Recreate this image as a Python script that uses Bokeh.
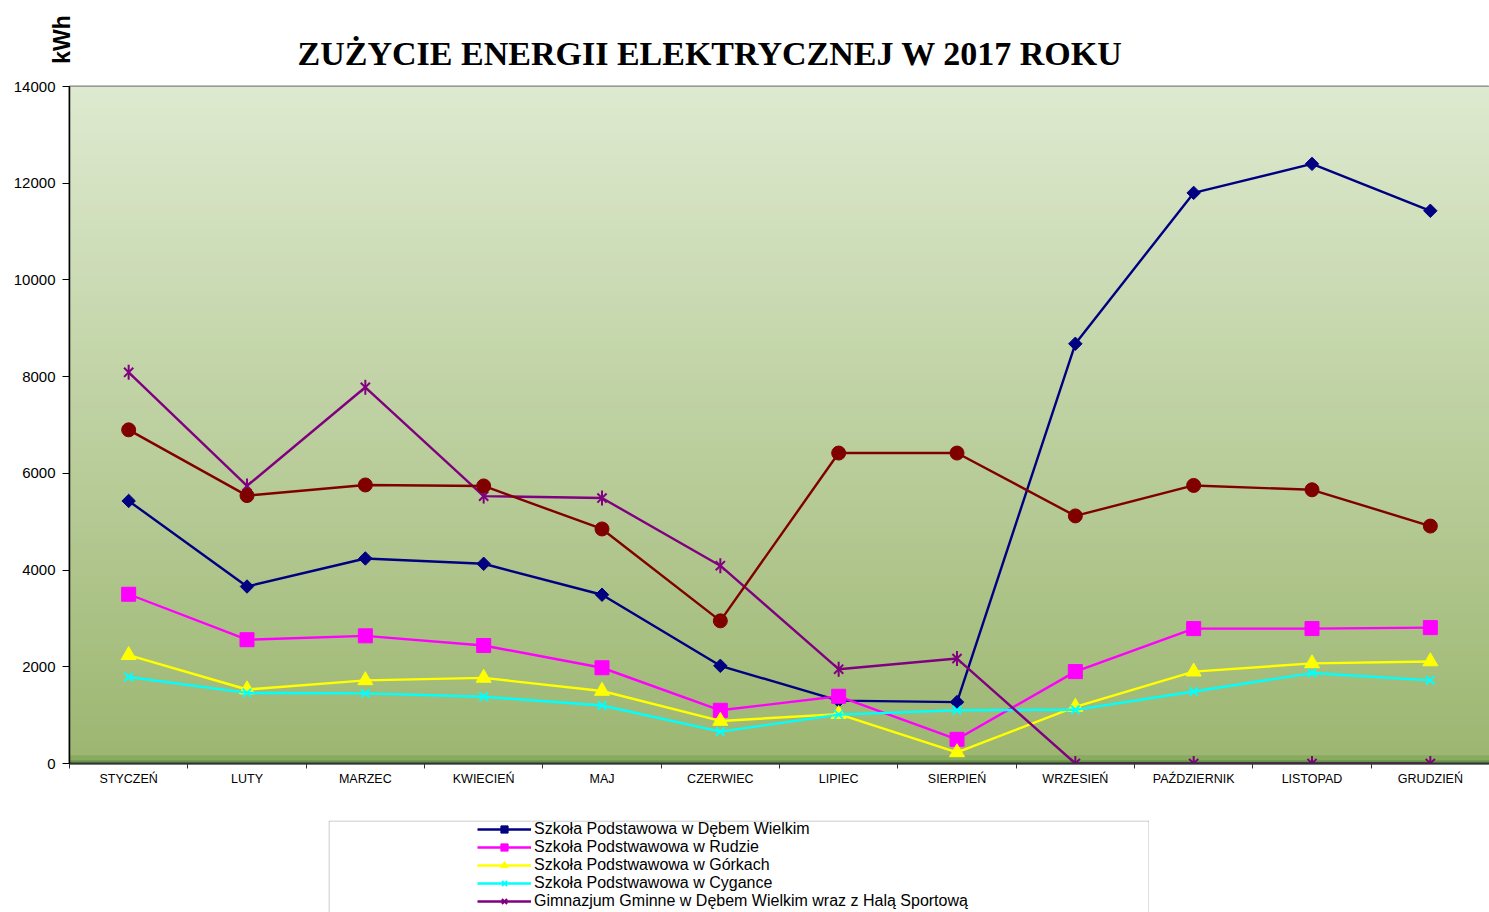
import numpy as np
from bokeh.plotting import figure
from bokeh.layouts import column, row
from bokeh.models import (Range1d, LinearAxis, FixedTicker, Legend, LegendItem,
                          Label, BoxAnnotation, Spacer)
from bokeh.embed import file_html
from bokeh.resources import INLINE

# ---------------- data ----------------
months = ["STYCZEŃ", "LUTY", "MARZEC", "KWIECIEŃ", "MAJ", "CZERWIEC", "LIPIEC",
          "SIERPIEŃ", "WRZESIEŃ", "PAŹDZIERNIK", "LISTOPAD", "GRUDZIEŃ"]
sp_debe = [5430, 3660, 4240, 4130, 3490, 2020, 1300, 1270, 8680, 11800, 12400, 11430]
sp_ruda = [3500, 2560, 2640, 2440, 1980, 1100, 1390, 500, 1900, 2790, 2790, 2810]
sp_gorki = [2240, 1530, 1720, 1770, 1500, 880, 1020, 230, 1170, 1900, 2070, 2110]
sp_cyganka = [1790, 1460, 1450, 1380, 1200, 660, 1010, 1100, 1110, 1490, 1870, 1720]
gimnazjum = [8090, 5740, 7780, 5530, 5490, 4090, 1950, 2170, 0, 0, 0, 0]
seria6 = [6900, 5540, 5760, 5740, 4850, 2950, 6420, 6420, 5120, 5750, 5660, 4910]

series_names = ["Szkoła Podstawowa w Dębem Wielkim",
                "Szkoła Podstwawowa w Rudzie",
                "Szkoła Podstwawowa w Górkach",
                "Szkoła Podstwawowa w Cygance",
                "Gimnazjum Gminne w Dębem Wielkim wraz z Halą Sportową"]
y_ticks = [0, 2000, 4000, 6000, 8000, 10000, 12000, 14000]
title_text = "ZUŻYCIE  ENERGII ELEKTRYCZNEJ W 2017 ROKU"
unit_text = "kWh"

x = list(range(1, len(months) + 1))
x_bounds = [i + 0.5 for i in range(0, len(months) + 1)]

NAVY, MAG, YEL, CYA, PUR, DRED = "#000080", "#ff00ff", "#ffff00", "#00ffff", "#800080", "#800000"
LW = 2.4

# ---------------- header figure (title + unit) ----------------
TOP_H = 76
top = figure(width=1489, height=TOP_H, output_backend="svg", toolbar_location=None,
             x_range=Range1d(0, 1489), y_range=Range1d(TOP_H, 0),
             x_axis_type=None, y_axis_type=None, min_border=0,
             outline_line_color=None, background_fill_color="white",
             border_fill_color="white")
top.xgrid.visible = False
top.ygrid.visible = False
top.add_layout(Label(x=714, y=53, text=title_text,
                     text_font="Liberation Serif", text_font_style="bold",
                     text_font_size="34px", text_align="center",
                     text_baseline="alphabetic", text_color="black"))
top.add_layout(Label(x=61, y=39, text=unit_text, angle=np.pi / 2,
                     text_font="Liberation Sans", text_font_style="bold",
                     text_font_size="23px", text_align="center",
                     text_baseline="middle", text_color="black"))

# ---------------- main chart ----------------
p = figure(width=1489, height=744, output_backend="svg", toolbar_location=None,
           x_range=Range1d(0.5, len(months) + 0.5), y_range=Range1d(0, 14000),
           x_axis_type=None, y_axis_type=None,
           min_border_left=69, min_border_top=10, min_border_right=0,
           min_border_bottom=57, background_fill_color="white",
           border_fill_color="white")
p.outline_line_color = "#808080"
p.outline_line_width = 2

# gradient background (decoration); bands overlap slightly to avoid seams
nb = 90
edges = np.linspace(0, 14000, nb + 1)
step = edges[1] - edges[0]
top_c = np.array([0xde, 0xea, 0xd0])
bot_c = np.array([0x9c, 0xb6, 0x70])
tt = (edges[:-1] + edges[1:]) / 2 / 14000.0
cols = ["#%02x%02x%02x" % tuple(int(round(v)) for v in (bot_c + (top_c - bot_c) * ti)) for ti in tt]
bg = p.quad(left=0.5, right=len(months) + 0.5, bottom=edges[:-1],
            top=np.minimum(edges[1:] + step * 0.6, 14000),
            fill_color=cols, line_color=None)
bg.level = "image"
s1 = p.quad(left=0.5, right=len(months) + 0.5, bottom=60, top=170,
            fill_color="#88ab60", line_color=None)
s1.level = "image"
s2 = p.quad(left=0.5, right=len(months) + 0.5, bottom=0, top=65,
            fill_color="#66954a", line_color=None)
s2.level = "image"

yax = LinearAxis(ticker=FixedTicker(ticks=y_ticks))
yax.axis_line_color = "black"
yax.axis_line_width = 1.5
yax.major_tick_line_color = "black"
yax.major_tick_out = 7
yax.major_tick_in = 0
yax.minor_tick_line_color = None
yax.major_label_text_font = "Liberation Sans"
yax.major_label_text_font_size = "15px"
yax.major_label_text_color = "black"
yax.major_label_standoff = 7
p.add_layout(yax, "left")

xax = LinearAxis(ticker=FixedTicker(ticks=x, minor_ticks=x_bounds),
                 major_label_overrides={i: m for i, m in zip(x, months)})
xax.axis_line_color = "#333333"
xax.axis_line_width = 2
xax.major_tick_line_color = None
xax.major_tick_out = 5
xax.major_tick_in = 0
xax.minor_tick_line_color = "#333333"
xax.minor_tick_line_width = 1
xax.minor_tick_out = 5
xax.minor_tick_in = 0
xax.major_label_standoff = 3
xax.major_label_text_font = "Liberation Sans"
xax.major_label_text_font_size = "12.5px"
xax.major_label_text_color = "black"
p.add_layout(xax, "below")

p.ygrid.ticker = FixedTicker(ticks=y_ticks)
p.ygrid.grid_line_color = "black"
p.ygrid.grid_line_width = 1
p.xgrid.grid_line_color = None


def draw_series(fig, big=True):
    k = 1.0 if big else 0.85
    r1 = [fig.line(x, sp_debe, line_color=NAVY, line_width=LW),
          fig.scatter(x, sp_debe, marker="square", angle=np.pi / 4, size=9.5 * k,
                      fill_color=NAVY, line_color=NAVY)]
    r2 = [fig.line(x, sp_ruda, line_color=MAG, line_width=LW),
          fig.scatter(x, sp_ruda, marker="square", size=14 * k, fill_color=MAG, line_color=MAG)]
    r3 = [fig.line(x, sp_gorki, line_color=YEL, line_width=LW),
          fig.scatter(x, sp_gorki, marker="triangle", size=15 * k, fill_color=YEL, line_color=YEL)]
    r4 = [fig.line(x, sp_cyganka, line_color=CYA, line_width=LW),
          fig.scatter(x, sp_cyganka, marker="x", size=12 * k, line_color=CYA, line_width=2)]
    r5 = [fig.line(x, gimnazjum, line_color=PUR, line_width=LW),
          fig.scatter(x, gimnazjum, marker="x", size=13 * k, line_color=PUR, line_width=2),
          fig.scatter(x, gimnazjum, marker="dash", angle=np.pi / 2, size=15 * k,
                      line_color=PUR, line_width=2)]
    r6 = [fig.line(x, seria6, line_color=DRED, line_width=LW),
          fig.scatter(x, seria6, marker="circle", size=14 * k, fill_color=DRED, line_color=DRED)]
    return [r1, r2, r3, r4, r5, r6]


draw_series(p, True)

# ---------------- legend figure ----------------
LW_, LH_ = 821, 92
# y range lies far below all data, so the series drawn here only feed the legend glyphs
lf = figure(width=LW_, height=LH_, output_backend="svg", toolbar_location=None,
            x_range=Range1d(0, LW_), y_range=Range1d(-1000, -1000 + LH_),
            x_axis_type=None, y_axis_type=None, min_border=0,
            outline_line_color=None, background_fill_color="white",
            border_fill_color="white")
lf.xgrid.visible = False
lf.ygrid.visible = False
lf.add_layout(BoxAnnotation(left=0.5, right=LW_ - 0.5, top=-1000 + LH_ - 0.5, bottom=-1100,
                            fill_color="white", fill_alpha=1.0,
                            line_color="#222222", line_width=1, level="underlay"))
rs = draw_series(lf, False)
items = [LegendItem(label=n, renderers=r) for n, r in zip(series_names, rs[:5])]
leg = Legend(items=items, location=(149, 2), padding=0, margin=0, spacing=0,
             glyph_width=54, glyph_height=18, label_height=18, label_standoff=3,
             label_text_font="Liberation Sans", label_text_font_size="16px",
             label_text_color="black", background_fill_alpha=0,
             border_line_color=None)
lf.add_layout(leg)

layout = column(row(top), p, row(Spacer(width=328, height=LH_), lf))
open("out.html", "w").write(file_html(layout, INLINE))
